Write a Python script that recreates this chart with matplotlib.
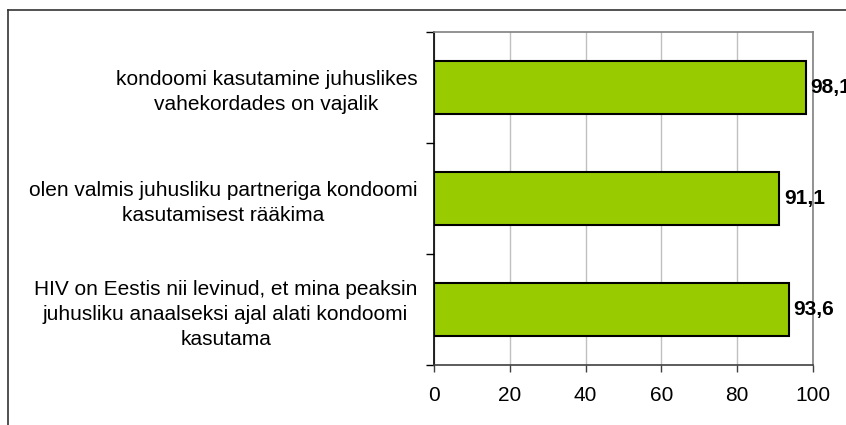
import numpy as np
import matplotlib.pyplot as plt
from matplotlib.lines import Line2D

plt.rcParams['font.family'] = ['Liberation Sans', 'DejaVu Sans']

# Data (top to bottom as in the chart)
labels = [
    "kondoomi kasutamine juhuslikes\nvahekordades on vajalik",
    "olen valmis juhusliku partneriga kondoomi\nkasutamisest rääkima",
    "HIV on Eestis nii levinud, et mina peaksin\njuhusliku anaalseksi ajal alati kondoomi\nkasutama",
]
values = [98.1, 91.1, 93.6]
x_ticks = [0, 20, 40, 60, 80, 100]

fig = plt.figure(figsize=(8.46, 4.25), dpi=100)
ax = fig.add_axes([0.513, 0.141, 0.448, 0.784])

y = np.arange(len(values))[::-1]
ax.barh(y, values, height=0.48, color="#99CC00", edgecolor="black", linewidth=1.5, zorder=3)

for yi, v in zip(y, values):
    ax.annotate(f"{v:.1f}".replace(".", ","), (v, yi), xytext=(3.5, 0),
                textcoords="offset points", va="center", ha="left",
                fontsize=15, fontweight="bold", annotation_clip=False)

ax.set_xlim(0, 100)
ax.set_ylim(-0.5, 2.5)
ax.set_xticks(x_ticks)
ax.set_yticks(y)
ax.set_yticklabels(labels, multialignment="center", linespacing=1.4)
ax.set_yticks([-0.5, 0.5, 1.5, 2.5], minor=True)
ax.tick_params(axis="y", which="major", length=0, pad=12, labelsize=15)
ax.tick_params(axis="y", which="minor", length=6, width=1, color="black", direction="out")
ax.tick_params(axis="x", length=5, width=1, color="#404040", labelsize=15, pad=10)

ax.grid(axis="x", color="#C0C0C0", linewidth=1, zorder=0)
ax.spines["left"].set_color("black")
ax.spines["left"].set_linewidth(1.2)
ax.spines["bottom"].set_color("#404040")
ax.spines["bottom"].set_linewidth(1.2)
ax.spines["top"].set_color("#808080")
ax.spines["right"].set_color("#808080")
ax.spines["top"].set_linewidth(1.2)
ax.spines["right"].set_linewidth(1.2)

# outer frame (top and left edges)
fig.add_artist(Line2D([8 / 846, 1], [1 - 10 / 425, 1 - 10 / 425], color="#333333", lw=1.2))
fig.add_artist(Line2D([8 / 846, 8 / 846], [0, 1 - 10 / 425], color="#333333", lw=1.2))

fig.savefig("out.png", dpi=100)
